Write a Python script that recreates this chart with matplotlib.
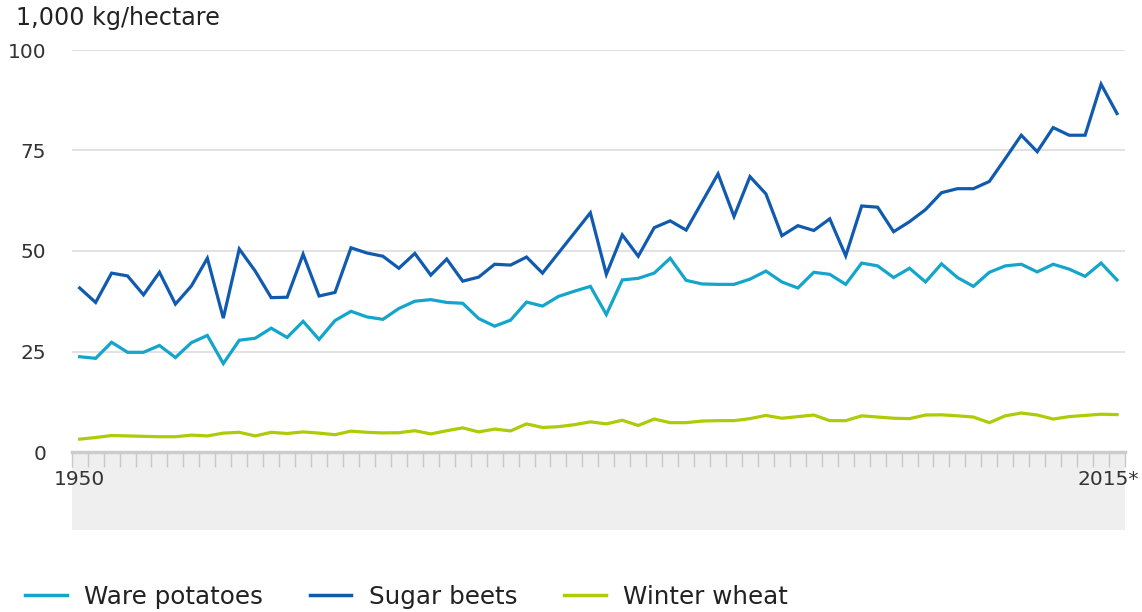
import matplotlib
matplotlib.use("Agg")
import matplotlib.pyplot as plt
from matplotlib.patches import Rectangle
import numpy as np

years = list(range(1950, 2016))

ware_potatoes = [23.7, 23.3, 27.3, 24.8, 24.8, 26.5, 23.5, 27.2, 29.0, 22.0,
                 27.8, 28.3, 30.8, 28.5, 32.5, 28.0, 32.7, 35.0, 33.6, 33.0,
                 35.7, 37.5, 37.9, 37.2, 37.0, 33.2, 31.3, 32.8, 37.3, 36.3,
                 38.7, 40.0, 41.2, 34.2, 42.8, 43.2, 44.5, 48.2, 42.7, 41.8,
                 41.7, 41.7, 43.0, 45.0, 42.3, 40.8, 44.7, 44.2, 41.7, 47.0,
                 46.3, 43.4, 45.7, 42.3, 46.8, 43.4, 41.2, 44.7, 46.3, 46.7,
                 44.8, 46.7, 45.5, 43.7, 47.0, 42.8]

sugar_beets = [40.8, 37.2, 44.5, 43.8, 39.1, 44.7, 36.8, 41.3, 48.2, 33.3,
               50.5, 45.0, 38.4, 38.5, 49.2, 38.8, 39.7, 50.8, 49.5, 48.7,
               45.7, 49.4, 44.0, 48.0, 42.5, 43.5, 46.7, 46.5, 48.5, 44.5,
               49.5, 54.5, 59.5, 44.2, 54.0, 48.7, 55.8, 57.5, 55.2, 62.2,
               69.2, 58.6, 68.5, 64.2, 53.8, 56.3, 55.1, 58.0, 48.8, 61.2,
               60.9, 54.8, 57.3, 60.3, 64.5, 65.5, 65.5, 67.3, 73.0, 78.8,
               74.7, 80.7, 78.8, 78.8, 91.5, 84.2]

winter_wheat = [3.2, 3.6, 4.1, 4.0, 3.9, 3.8, 3.8, 4.2, 4.0, 4.7,
                4.9, 4.0, 4.9, 4.6, 5.0, 4.7, 4.3, 5.2, 4.9, 4.75,
                4.8, 5.3, 4.5, 5.3, 6.0, 5.0, 5.7, 5.25, 7.0, 6.1,
                6.3, 6.8, 7.5, 7.0, 7.9, 6.6, 8.2, 7.3, 7.3, 7.7,
                7.8, 7.8, 8.3, 9.1, 8.4, 8.8, 9.2, 7.8, 7.8, 9.0,
                8.7, 8.4, 8.3, 9.2, 9.25, 9.0, 8.7, 7.3, 9.0, 9.7,
                9.2, 8.2, 8.8, 9.1, 9.4, 9.3]

series_names = ["Ware potatoes", "Sugar beets", "Winter wheat"]
series_colors = ["#13A5CB", "#105BB0", "#AFCB05"]
y_ticks = [0, 25, 50, 75, 100]
x_labels = {1950: "1950", 2015: "2015*"}
unit_label = "1,000 kg/hectare"

W, H = 1142, 612
fig = plt.figure(figsize=(W / 100, H / 100), dpi=100)
fig.patch.set_facecolor("white")

left_px, right_px = 71.7, 1125
top_px, bottom_px = 50, 452
ax = fig.add_axes([left_px / W, 1 - bottom_px / H,
                   (right_px - left_px) / W, (bottom_px - top_px) / H])

# band below the axis
band = Rectangle((left_px / W, 1 - 530 / H), (right_px - left_px) / W,
                 (530 - bottom_px) / H, transform=fig.transFigure,
                 facecolor="#EFEFEF", edgecolor="none", zorder=-1)
fig.add_artist(band)

lines = []
for vals, name, col in zip([ware_potatoes, sugar_beets, winter_wheat],
                           series_names, series_colors):
    ln, = ax.plot(years, vals, color=col, lw=2.3, label=name,
                  solid_joinstyle="miter", zorder=3)
    lines.append(ln)

ax.set_xlim(1949.5, 2015.5)
ax.set_ylim(0, 100)
ax.set_yticks(y_ticks)
ax.set_yticklabels([str(v) for v in y_ticks])
ax.yaxis.grid(True, color="#DDDDDD", lw=1.2)
ax.set_axisbelow(True)
for s in ["top", "right", "left"]:
    ax.spines[s].set_visible(False)
ax.spines["bottom"].set_color("#CCCCCC")
ax.spines["bottom"].set_linewidth(2.5)
ax.tick_params(axis="y", length=0, pad=18.5, labelsize=14.5, labelcolor="#333333")

# minor ticks at year boundaries
ax.set_xticks(np.arange(1949.5, 2016, 1.0), minor=True)
ax.tick_params(axis="x", which="minor", direction="out", length=11,
               width=1, color="#C8C8C8")
ax.set_xticks([])
ax.tick_params(axis="x", which="major", length=0)

label_y = 1 - 470 / H
for yr, lab in x_labels.items():
    if yr == 2015:
        fig.text(1139 / W, label_y, lab, ha="right", va="top", fontsize=14.5,
                 color="#333333")
    else:
        ax.text(yr, -4.4, lab, ha="center", va="top", fontsize=14.5,
                color="#333333", clip_on=False)

fig.text(16 / W, 1 - 18 / H, unit_label, ha="left", va="center",
         fontsize=17.2, color="#222222")

leg = fig.legend(handles=lines, labels=series_names, ncol=3, frameon=False,
                 loc="center left", bbox_to_anchor=(25 / W, 1 - 597 / H),
                 fontsize=17.7, handlelength=1.7, handletextpad=0.72,
                 columnspacing=1.88, borderpad=0, borderaxespad=0)
for t in leg.get_texts():
    t.set_color("#222222")
for lh in leg.get_lines():
    lh.set_linewidth(2.5)

fig.savefig("out.png", dpi=100)
